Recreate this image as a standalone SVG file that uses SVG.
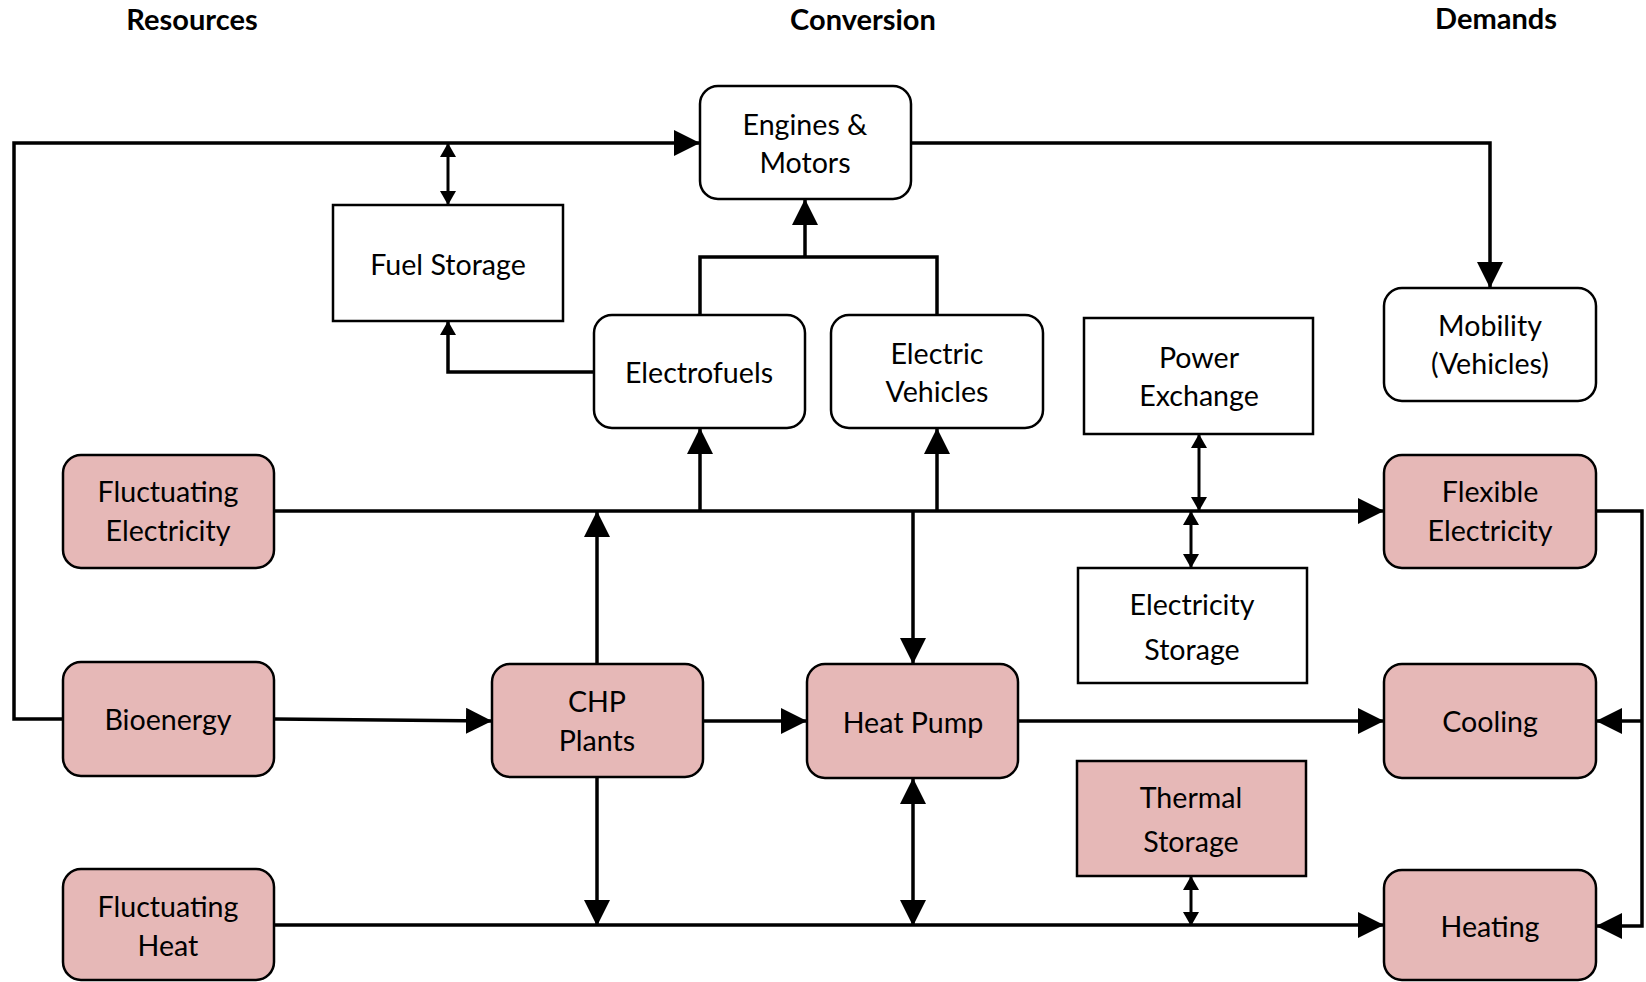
<svg xmlns="http://www.w3.org/2000/svg" width="1646" height="982" viewBox="0 0 1646 982">
<style>
.t{font-family:Lato,"Liberation Sans",sans-serif;font-size:28.6px;fill:#000;text-anchor:middle}
.h{font-family:Lato,"Liberation Sans",sans-serif;font-size:29px;font-weight:bold;fill:#000;text-anchor:middle}
.w{fill:#fff;stroke:#000;stroke-width:2.5}
.p{fill:#E6B8B7;stroke:#000;stroke-width:2.5}
.c{fill:none;stroke:#000;stroke-width:3.5}
.s{fill:none;stroke:#000;stroke-width:3}
</style>
<defs>
<marker id="a" markerUnits="userSpaceOnUse" markerWidth="26" markerHeight="26" refX="26" refY="13" orient="auto-start-reverse"><path d="M0,0 L26,13 L0,26 z" fill="#000"/></marker>
<marker id="sm" markerUnits="userSpaceOnUse" markerWidth="14" markerHeight="16" refX="14" refY="8" orient="auto-start-reverse"><path d="M0,0 L14,8 L0,16 z" fill="#000"/></marker>
</defs>
<rect width="1646" height="982" fill="#fff"/>
<g id="titles">
<text class="h" x="192" y="30">Resources</text>
<text class="h" x="863" y="30">Conversion</text>
<text class="h" x="1496" y="29">Demands</text>
</g>
<g id="connectors">
<path class="c" d="M63,719 H14 V143 H700" marker-end="url(#a)"/>
<path class="s" d="M448,143 V205" marker-start="url(#sm)" marker-end="url(#sm)"/>
<path class="c" d="M594,372 H448 V321" marker-end="url(#sm)"/>
<path class="c" d="M700,315 V257 H937 V315"/>
<path class="c" d="M805,257 V199" marker-end="url(#a)"/>
<path class="c" d="M911,143 H1490 V288" marker-end="url(#a)"/>
<path class="c" d="M274,511 H1384" marker-end="url(#a)"/>
<path class="c" d="M700,511 V428" marker-end="url(#a)"/>
<path class="c" d="M937,511 V428" marker-end="url(#a)"/>
<path class="c" d="M597,664 V511" marker-end="url(#a)"/>
<path class="c" d="M913,511 V664" marker-end="url(#a)"/>
<path class="s" d="M1199,434 V511" marker-start="url(#sm)" marker-end="url(#sm)"/>
<path class="s" d="M1191,511 V568" marker-start="url(#sm)" marker-end="url(#sm)"/>
<path class="c" d="M274,719 L492,721" marker-end="url(#a)"/>
<path class="c" d="M703,721 H807" marker-end="url(#a)"/>
<path class="c" d="M1018,721 H1384" marker-end="url(#a)"/>
<path class="c" d="M597,777 V926" marker-end="url(#a)"/>
<path class="c" d="M913,778 V926" marker-start="url(#a)" marker-end="url(#a)"/>
<path class="c" d="M274,925 H1384" marker-end="url(#a)"/>
<path class="s" d="M1191,876 V926" marker-start="url(#sm)" marker-end="url(#sm)"/>
<path class="c" d="M1596,511 H1642 V926 H1596" marker-end="url(#a)"/>
<path class="c" d="M1642,721 H1596" marker-end="url(#a)"/>
</g>
<g id="engines">
<rect class="w" x="700" y="86" width="211" height="113" rx="18"/>
<text class="t" x="805" y="135">Engines &amp;</text>
<text class="t" x="805" y="173">Motors</text>
</g>
<g id="fuel-storage">
<rect class="w" x="333" y="205" width="230" height="116"/>
<text class="t" x="448" y="275">Fuel Storage</text>
</g>
<g id="electrofuels">
<rect class="w" x="594" y="315" width="211" height="113" rx="18"/>
<text class="t" x="699" y="383">Electrofuels</text>
</g>
<g id="electric-vehicles">
<rect class="w" x="831" y="315" width="212" height="113" rx="18"/>
<text class="t" x="937" y="364">Electric</text>
<text class="t" x="937" y="402">Vehicles</text>
</g>
<g id="power-exchange">
<rect class="w" x="1084" y="318" width="229" height="116"/>
<text class="t" x="1199" y="368">Power</text>
<text class="t" x="1199" y="406">Exchange</text>
</g>
<g id="mobility">
<rect class="w" x="1384" y="288" width="212" height="113" rx="18"/>
<text class="t" x="1490" y="336">Mobility</text>
<text class="t" x="1490" y="374">(Vehicles)</text>
</g>
<g id="fluctuating-electricity">
<rect class="p" x="63" y="455" width="211" height="113" rx="18"/>
<text class="t" x="168" y="502">Fluctuating</text>
<text class="t" x="168" y="541">Electricity</text>
</g>
<g id="flexible-electricity">
<rect class="p" x="1384" y="455" width="212" height="113" rx="18"/>
<text class="t" x="1490" y="502">Flexible</text>
<text class="t" x="1490" y="541">Electricity</text>
</g>
<g id="electricity-storage">
<rect class="w" x="1078" y="568" width="229" height="115"/>
<text class="t" x="1192" y="615">Electricity</text>
<text class="t" x="1192" y="660">Storage</text>
</g>
<g id="bioenergy">
<rect class="p" x="63" y="662" width="211" height="114" rx="18"/>
<text class="t" x="168" y="730">Bioenergy</text>
</g>
<g id="chp">
<rect class="p" x="492" y="664" width="211" height="113" rx="18"/>
<text class="t" x="597" y="712">CHP</text>
<text class="t" x="597" y="751">Plants</text>
</g>
<g id="heat-pump">
<rect class="p" x="807" y="664" width="211" height="114" rx="18"/>
<text class="t" x="913" y="733">Heat Pump</text>
</g>
<g id="cooling">
<rect class="p" x="1384" y="664" width="212" height="114" rx="18"/>
<text class="t" x="1490" y="732">Cooling</text>
</g>
<g id="thermal-storage">
<rect class="p" x="1077" y="761" width="229" height="115"/>
<text class="t" x="1191" y="808">Thermal</text>
<text class="t" x="1191" y="852">Storage</text>
</g>
<g id="fluctuating-heat">
<rect class="p" x="63" y="869" width="211" height="111" rx="18"/>
<text class="t" x="168" y="917">Fluctuating</text>
<text class="t" x="168" y="956">Heat</text>
</g>
<g id="heating">
<rect class="p" x="1384" y="870" width="212" height="110" rx="18"/>
<text class="t" x="1490" y="937">Heating</text>
</g>
</svg>
